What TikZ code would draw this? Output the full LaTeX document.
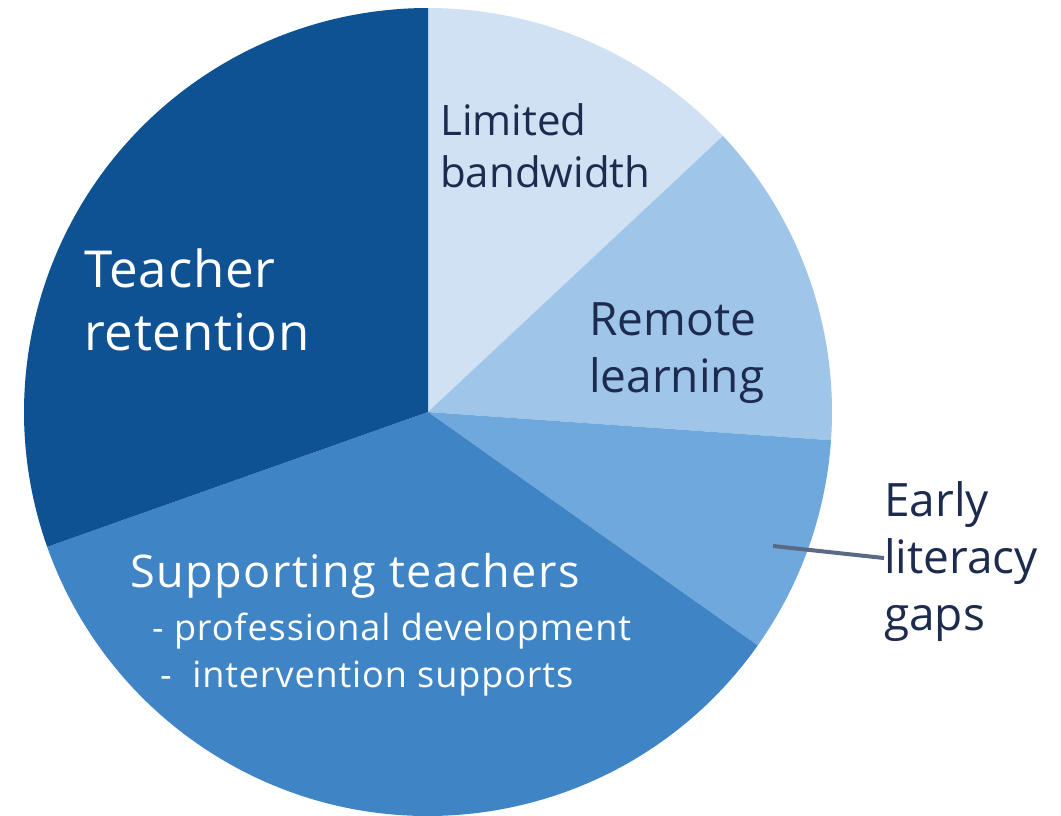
\documentclass[tikz,border=0pt]{standalone}
\usepackage{fontspec}
\setmainfont{Open Sans}
\definecolor{sA}{HTML}{CFE1F2}
\definecolor{sB}{HTML}{9FC5E8}
\definecolor{sC}{HTML}{6FA8DC}
\definecolor{sD}{HTML}{3F85C6}
\definecolor{sE}{HTML}{0E5294}
\definecolor{txt}{HTML}{1C2B4E}
\definecolor{lead}{HTML}{5A6A85}
\begin{document}
\begin{tikzpicture}[x=1pt,y=1pt,
  lbl/.style={inner sep=0pt,anchor=base west,align=left},
  dark/.style={lbl,text=txt},
  light/.style={lbl,text=white}]
\useasboundingbox (0,-815) rectangle (1061,0);
\coordinate (c) at (428,-412);
\def\R{404}
\fill[sA] (c) -- ++(90:\R) arc[start angle=90,end angle=43.1,radius=\R] -- cycle;
\fill[sB] (c) -- ++(43.1:\R) arc[start angle=43.1,end angle=-4,radius=\R] -- cycle;
\fill[sC] (c) -- ++(-4:\R) arc[start angle=-4,end angle=-35.3,radius=\R] -- cycle;
\fill[sD] (c) -- ++(-35.3:\R) arc[start angle=-35.3,end angle=-160.5,radius=\R] -- cycle;
\fill[sE] (c) -- ++(199.5:\R) arc[start angle=199.5,end angle=90,radius=\R] -- cycle;
\node[dark,font=\fontsize{42}{52}\selectfont] (lb) at (440,-187) {Limited\\bandwidth};
\node[dark,font=\fontsize{46}{57}\selectfont] (rl) at (589,-392) {Remote\\learning};
\node[dark,font=\fontsize{46}{57}\selectfont] (el) at (884,-630) {Early\\literacy\\gaps};
\node[light,font=\fontsize{51}{63}\selectfont\addfontfeatures{LetterSpace=1.5}] (tr) at (84,-350) {Teacher\\retention};
\node[light,font=\fontsize{45}{52}\selectfont\addfontfeatures{LetterSpace=3.3}] (st) at (130,-587) {Supporting teachers};
\node[light,font=\fontsize{36}{47}\selectfont\addfontfeatures{LetterSpace=2.5}] (st2) at (152,-687) {- professional development\\\hspace*{8pt}-\ \ intervention supports};
\coordinate (lp) at (773,-546);
\draw[lead,line width=4pt] (lp) -- (el.west |- 0,-558);
\end{tikzpicture}
\end{document}
